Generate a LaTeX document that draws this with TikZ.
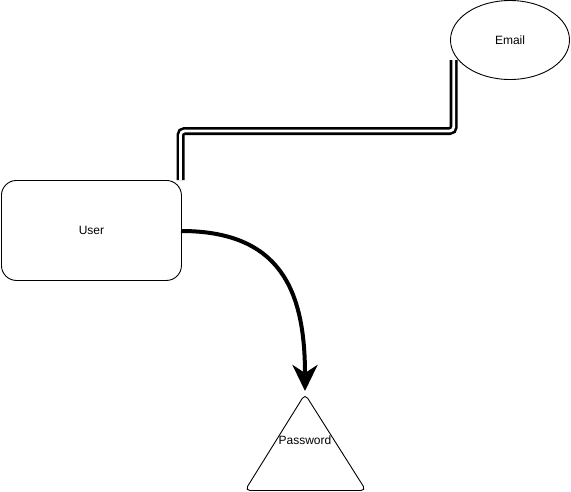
\documentclass[tikz,border=0pt]{standalone}
\usepackage{fontspec}
\setmainfont{Liberation Sans}
\usetikzlibrary{shapes.geometric,arrows.meta}
\begin{document}
\begin{tikzpicture}[x=1pt,y=-1pt,
  shapeline/.style={draw=black,line width=0.9pt},
  lbl/.style={font=\fontsize{12}{14}\selectfont,inner sep=0pt},
  dbl/.style={draw=black,line width=2.6pt,double=white,double distance=2.8pt,rounded corners=4pt},
  curvearrow/.style={draw=black,line width=4pt,-{Stealth[length=26pt,width=25pt,inset=8pt]}}]
\useasboundingbox (0,0) rectangle (571,491);
% User box
\node[shapeline,rounded corners=15pt,minimum width=180pt,minimum height=100pt,inner sep=0pt,anchor=north west] (user) at (1,180) {};
\node[lbl] (userlbl) at (user.center) {User};
% Email ellipse
\node[shapeline,ellipse,minimum width=119pt,minimum height=79pt,inner sep=0pt] (email) at (510,40) {};
\node[lbl] (emaillbl) at (email.center) {Email};
% Password triangle
\coordinate (pwtop) at (305,394);
\coordinate (pwl) at (245,490.5);
\coordinate (pwr) at (366,490.5);
\draw[shapeline,rounded corners=5pt] (pwtop) -- (pwr) -- (pwl) -- cycle;
\node[lbl] (pwlbl) at (305,440) {Password};
% double connector
\coordinate (dstart) at (180.5,180);
\coordinate (dend) at (453.7,60);
\draw[dbl] (dstart) -- (dstart |- 0,131) -- (dend |- 0,131) -- (dend);
% curved arrow
\coordinate (cstart) at (181,231);
\coordinate (ctip) at (305,391);
\draw[curvearrow] (cstart) .. controls (280,231) and (305,290) .. (ctip);
\end{tikzpicture}
\end{document}
